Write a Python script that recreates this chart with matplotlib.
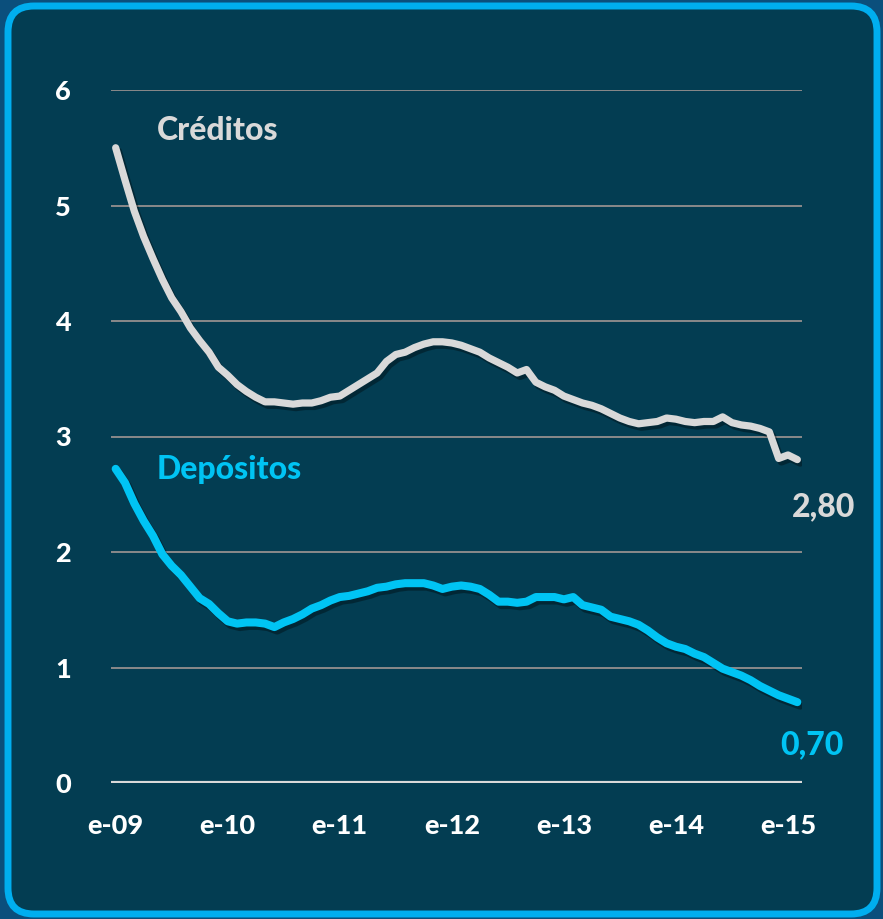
import matplotlib
matplotlib.use("Agg")
import matplotlib.pyplot as plt
import matplotlib.patheffects as pe
from matplotlib.patches import FancyBboxPatch

# monthly series, Jan 2009 - Feb 2015
creditos = [5.50, 5.22, 4.95, 4.73, 4.54, 4.36, 4.20, 4.08, 3.94, 3.83,
            3.73, 3.60, 3.53, 3.45, 3.39, 3.34, 3.30, 3.30, 3.29, 3.28,
            3.29, 3.29, 3.31, 3.34, 3.35, 3.40, 3.45, 3.50, 3.55, 3.65,
            3.71, 3.73, 3.77, 3.80, 3.82, 3.82, 3.81, 3.79, 3.76, 3.73,
            3.68, 3.64, 3.60, 3.55, 3.58, 3.47, 3.43, 3.40, 3.35, 3.32,
            3.29, 3.27, 3.24, 3.20, 3.16, 3.13, 3.11, 3.12, 3.13, 3.16,
            3.15, 3.13, 3.12, 3.13, 3.13, 3.17, 3.12, 3.10, 3.09, 3.07,
            3.04, 2.81, 2.84, 2.80]
depositos = [2.72, 2.60, 2.42, 2.27, 2.14, 1.98, 1.88, 1.80, 1.70, 1.60,
             1.55, 1.47, 1.40, 1.38, 1.39, 1.39, 1.38, 1.35, 1.39, 1.42,
             1.46, 1.51, 1.54, 1.58, 1.61, 1.62, 1.64, 1.66, 1.69, 1.70,
             1.72, 1.73, 1.73, 1.73, 1.71, 1.68, 1.70, 1.71, 1.70, 1.68,
             1.63, 1.57, 1.57, 1.56, 1.57, 1.61, 1.61, 1.61, 1.59, 1.61,
             1.54, 1.52, 1.50, 1.44, 1.42, 1.40, 1.37, 1.32, 1.26, 1.21,
             1.18, 1.16, 1.12, 1.09, 1.04, 0.99, 0.96, 0.93, 0.89, 0.84,
             0.80, 0.76, 0.73, 0.70]
year_labels = ["e-09", "e-10", "e-11", "e-12", "e-13", "e-14", "e-15"]
y_ticks = [0, 1, 2, 3, 4, 5, 6]

BG = "#033d52"
GREY = "#d9d9d9"
CYAN = "#00c4f4"
FONT = "Lato"
W = 900  # heavier than plain bold

fig = plt.figure(figsize=(8.83, 9.19), dpi=100)
fig.patch.set_facecolor("#0b4f7c")

# rounded panel with light blue border
bg = fig.add_axes([0, 0, 1, 1])
bg.set_xlim(0, 883)
bg.set_ylim(919, 0)
bg.axis("off")
bg.add_patch(FancyBboxPatch((8, 6), 869, 908, boxstyle="round,pad=0,rounding_size=26",
                            facecolor=BG, edgecolor="#00aeef", linewidth=5))

ax = fig.add_axes([111 / 883, (919 - 783) / 919, 691 / 883, 693 / 919])
ax.set_facecolor("none")
ax.set_xlim(-0.5, 73.5)
ax.set_ylim(0, 6)
for s in ax.spines.values():
    s.set_visible(False)

for y in y_ticks[1:]:
    ax.axhline(y, color="#8a8a8a", lw=1.4, zorder=1)
ax.axhline(0, color=GREY, lw=3, zorder=1)

x = list(range(len(creditos)))
shadow = [pe.SimpleLineShadow(offset=(2, -2.5), shadow_color="black", alpha=0.35), pe.Normal()]
ax.plot(x, creditos, color=GREY, lw=5.2, solid_capstyle="round", solid_joinstyle="round",
        path_effects=shadow, zorder=3)
ax.plot(x, depositos, color=CYAN, lw=5.8, solid_capstyle="round", solid_joinstyle="round",
        path_effects=shadow, zorder=3)

ax.set_yticks(y_ticks)
ax.set_yticklabels([str(v) for v in y_ticks])
ax.set_xticks(range(0, 73, 12))
ax.set_xticklabels(year_labels)
ax.tick_params(length=0, colors="white")
ax.tick_params(axis="y", pad=29)
ax.tick_params(axis="x", pad=22)
for lab in ax.get_xticklabels() + ax.get_yticklabels():
    lab.set_fontfamily(FONT)
    lab.set_fontweight(W)
    lab.set_fontsize(19.5)
    lab.set_color("white")

ax.text(4.4, 5.65, "Créditos", color=GREY, fontsize=23, fontweight=W,
        family=FONT, ha="left", va="center")
ax.text(4.4, 2.71, "Depósitos", color=CYAN, fontsize=23, fontweight=W,
        family=FONT, ha="left", va="center")
ax.text(75.8, 2.39, "2,80", color=GREY, fontsize=23, fontweight=W,
        family=FONT, ha="center", va="center", clip_on=False)
ax.text(74.6, 0.33, "0,70", color=CYAN, fontsize=23, fontweight=W,
        family=FONT, ha="center", va="center", clip_on=False)

fig.savefig("out.png", dpi=100, facecolor=fig.get_facecolor())
